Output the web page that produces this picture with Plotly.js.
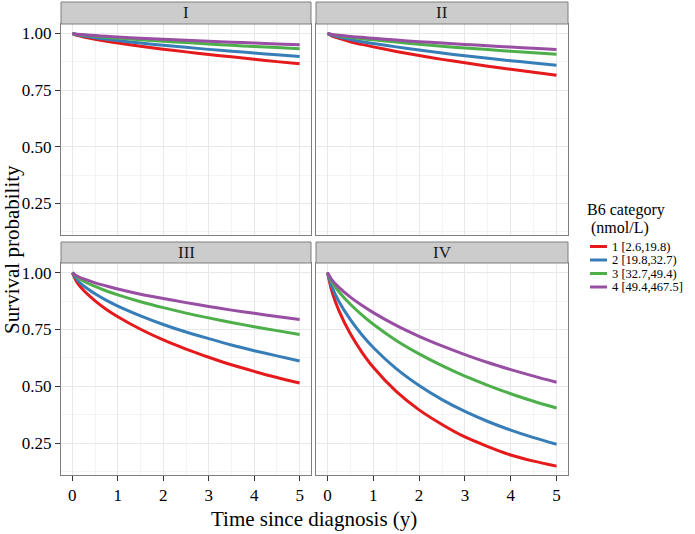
<!DOCTYPE html>
<html>
<head>
<meta charset="utf-8">
<script src="https://cdn.plot.ly/plotly-3.0.1.min.js"></script>
<style>html,body{margin:0;padding:0;background:#fff;}#chart{width:695px;height:534px;}</style>
</head>
<body>
<div id="chart"></div>
<script>
// ---- data ----
const times = [0, 0.1, 0.25, 0.5, 0.75, 1, 1.5, 2, 2.5, 3, 3.5, 4, 4.5, 5];
const stages = ['I', 'II', 'III', 'IV'];
const categories = ['1 [2.6,19.8)', '2 [19.8,32.7)', '3 [32.7,49.4)', '4 [49.4,467.5]'];
const colors = ['#E41A1C', '#377EB8', '#4DAF4A', '#984EA3'];
const xTicks = [0, 1, 2, 3, 4, 5];
const yTicks = [0.25, 0.50, 0.75, 1.00];

const stageI_1 = [1, 0.992, 0.985, 0.975, 0.966, 0.958, 0.944, 0.931, 0.919, 0.907, 0.897, 0.886, 0.876, 0.867];
const stageI_2 = [1, 0.994, 0.989, 0.981, 0.975, 0.969, 0.958, 0.948, 0.939, 0.930, 0.922, 0.914, 0.906, 0.899];
const stageI_3 = [1, 0.996, 0.993, 0.988, 0.983, 0.980, 0.972, 0.966, 0.960, 0.954, 0.948, 0.943, 0.938, 0.933];
const stageI_4 = [1, 0.997, 0.995, 0.991, 0.988, 0.985, 0.979, 0.975, 0.970, 0.966, 0.962, 0.958, 0.954, 0.950];

const stageII_1 = [1, 0.989, 0.979, 0.964, 0.952, 0.941, 0.921, 0.903, 0.886, 0.871, 0.856, 0.842, 0.829, 0.816];
const stageII_2 = [1, 0.992, 0.984, 0.974, 0.964, 0.956, 0.941, 0.927, 0.914, 0.902, 0.891, 0.880, 0.870, 0.860];
const stageII_3 = [1, 0.995, 0.990, 0.983, 0.977, 0.972, 0.962, 0.953, 0.944, 0.936, 0.929, 0.922, 0.915, 0.908];
const stageII_4 = [1, 0.996, 0.992, 0.987, 0.983, 0.979, 0.971, 0.964, 0.958, 0.952, 0.946, 0.940, 0.935, 0.930];

const stageIII_1 = [1, 0.958, 0.921, 0.876, 0.838, 0.806, 0.751, 0.704, 0.664, 0.628, 0.595, 0.566, 0.539, 0.515];
const stageIII_2 = [1, 0.969, 0.941, 0.907, 0.878, 0.853, 0.810, 0.772, 0.739, 0.710, 0.682, 0.657, 0.634, 0.612];
const stageIII_3 = [1, 0.980, 0.962, 0.939, 0.919, 0.902, 0.872, 0.846, 0.822, 0.801, 0.781, 0.762, 0.745, 0.728];
const stageIII_4 = [1, 0.985, 0.972, 0.955, 0.941, 0.928, 0.905, 0.886, 0.868, 0.851, 0.835, 0.821, 0.807, 0.794];

const stageIV_1 = [1, 0.915, 0.833, 0.731, 0.651, 0.584, 0.478, 0.397, 0.333, 0.278, 0.236, 0.199, 0.172, 0.150];
const stageIV_2 = [1, 0.936, 0.873, 0.793, 0.727, 0.671, 0.578, 0.504, 0.442, 0.390, 0.346, 0.308, 0.275, 0.246];
const stageIV_3 = [1, 0.958, 0.916, 0.861, 0.814, 0.773, 0.702, 0.643, 0.591, 0.545, 0.505, 0.468, 0.435, 0.405];
const stageIV_4 = [1, 0.967, 0.935, 0.892, 0.856, 0.824, 0.768, 0.720, 0.678, 0.640, 0.605, 0.574, 0.545, 0.518];

const panelSeries = [
  [stageI_1, stageI_2, stageI_3, stageI_4],
  [stageII_1, stageII_2, stageII_3, stageII_4],
  [stageIII_1, stageIII_2, stageIII_3, stageIII_4],
  [stageIV_1, stageIV_2, stageIV_3, stageIV_4]
];

// ---- build ----
const FONT = '"Liberation Serif", "DejaVu Serif", "Times New Roman", serif';
const W = 695, H = 534;
const M = {l: 61, r: 127, t: 24, b: 59};
const PW = W - M.l - M.r, PH = H - M.t - M.b;
const px = x => (x - M.l) / PW;          // pixel x -> paper
const py = y => (H - M.b - y) / PH;      // pixel y -> paper

const colDom = [[0, px(311)], [px(316), 1]];
const rowDom = [[py(235), 1], [0, py(263)]];
const yRange = [0.111, 1.042];
const xRange = [-0.25, 5.25];

const traces = [];
panelSeries.forEach((series, p) => {
  const ax = p === 0 ? '' : String(p + 1);
  series.forEach((vals, c) => {
    traces.push({
      x: times, y: vals, type: 'scatter', mode: 'lines',
      xaxis: 'x' + ax, yaxis: 'y' + ax,
      name: categories[c], showlegend: false, hoverinfo: 'skip',
      line: {color: colors[c], width: 3, shape: 'spline', smoothing: 0.8}
    });
  });
});

const grid = '#E8E8E8', minorGrid = '#F4F4F4', border = '#7F7F7F';
function xa(p) {
  const bottom = p >= 2;
  return {
    domain: colDom[p % 2], anchor: 'y' + (p === 0 ? '' : p + 1), range: xRange,
    tickvals: xTicks, ticktext: xTicks.map(String),
    showticklabels: bottom, ticks: bottom ? 'outside' : '', ticklen: 5, tickwidth: 1, tickcolor: '#333333',
    tickfont: {family: FONT, size: 17, color: '#000'},
    showgrid: true, gridcolor: grid, gridwidth: 1,
    minor: {dtick: 0.5, tick0: 0, showgrid: true, gridcolor: minorGrid, gridwidth: 1, ticks: ''},
    zeroline: false, showline: true, mirror: true, linecolor: border, linewidth: 1,
    fixedrange: true
  };
}
function ya(p) {
  const left = p % 2 === 0;
  return {
    domain: rowDom[p < 2 ? 0 : 1], anchor: 'x' + (p === 0 ? '' : p + 1), range: yRange,
    tickvals: yTicks, ticktext: yTicks.map(v => v.toFixed(2)),
    showticklabels: left, ticks: left ? 'outside' : '', ticklen: 5, tickwidth: 1, tickcolor: '#333333',
    tickfont: {family: FONT, size: 17, color: '#000'},
    showgrid: true, gridcolor: grid, gridwidth: 1,
    minor: {dtick: 0.125, tick0: 0, showgrid: true, gridcolor: minorGrid, gridwidth: 1, ticks: ''},
    zeroline: false, showline: true, mirror: true, linecolor: border, linewidth: 1,
    fixedrange: true
  };
}

const shapes = [];
const annotations = [];
// strips
const strips = [
  {x0: 61, x1: 311, y0: 2, y1: 24},
  {x0: 316, x1: 568, y0: 2, y1: 24},
  {x0: 61, x1: 311, y0: 242, y1: 263},
  {x0: 316, x1: 568, y0: 242, y1: 263}
];
strips.forEach((s, i) => {
  shapes.push({type: 'rect', xref: 'paper', yref: 'paper', x0: px(s.x0), x1: px(s.x1), y0: py(s.y1), y1: py(s.y0),
    fillcolor: '#CCCCCC', line: {color: border, width: 1}, layer: 'above'});
  annotations.push({xref: 'paper', yref: 'paper', x: px((s.x0 + s.x1) / 2), y: py((s.y0 + s.y1) / 2),
    text: stages[i], showarrow: false, xanchor: 'center', yanchor: 'middle',
    font: {family: FONT, size: 17, color: '#1A1A1A'}});
});

// axis titles
annotations.push({xref: 'paper', yref: 'paper', x: px(314), y: py(519), text: 'Time since diagnosis (y)',
  showarrow: false, xanchor: 'center', yanchor: 'middle', font: {family: FONT, size: 21, color: '#000'}});
annotations.push({xref: 'paper', yref: 'paper', x: px(12), y: py(250), text: 'Survival probability', textangle: -90,
  showarrow: false, xanchor: 'center', yanchor: 'middle', font: {family: FONT, size: 21, color: '#000'}});

// legend (drawn manually to match ggplot spacing)
annotations.push({xref: 'paper', yref: 'paper', x: px(586), y: py(210), text: 'B6 category',
  showarrow: false, xanchor: 'left', yanchor: 'middle', borderpad: 0, font: {family: FONT, size: 16, color: '#000'}});
annotations.push({xref: 'paper', yref: 'paper', x: px(590), y: py(228), text: '(nmol/L)',
  showarrow: false, xanchor: 'left', yanchor: 'middle', borderpad: 0, font: {family: FONT, size: 16, color: '#000'}});
categories.forEach((cat, i) => {
  const yc = 246.5 + i * 13.5;
  shapes.push({type: 'line', xref: 'paper', yref: 'paper', x0: px(590), x1: px(607), y0: py(yc), y1: py(yc),
    line: {color: colors[i], width: 3}});
  annotations.push({xref: 'paper', yref: 'paper', x: px(611), y: py(yc), text: cat,
    showarrow: false, xanchor: 'left', yanchor: 'middle', borderpad: 0, font: {family: FONT, size: 12.5, color: '#000'}});
});

const layout = {
  width: W, height: H, margin: M,
  paper_bgcolor: '#FFFFFF', plot_bgcolor: '#FFFFFF',
  showlegend: false,
  font: {family: FONT, color: '#000'},
  xaxis: xa(0), yaxis: ya(0),
  xaxis2: xa(1), yaxis2: ya(1),
  xaxis3: xa(2), yaxis3: ya(2),
  xaxis4: xa(3), yaxis4: ya(3),
  shapes: shapes, annotations: annotations
};

Plotly.newPlot('chart', traces, layout, {displayModeBar: false, staticPlot: true});
</script>
</body>
</html>
